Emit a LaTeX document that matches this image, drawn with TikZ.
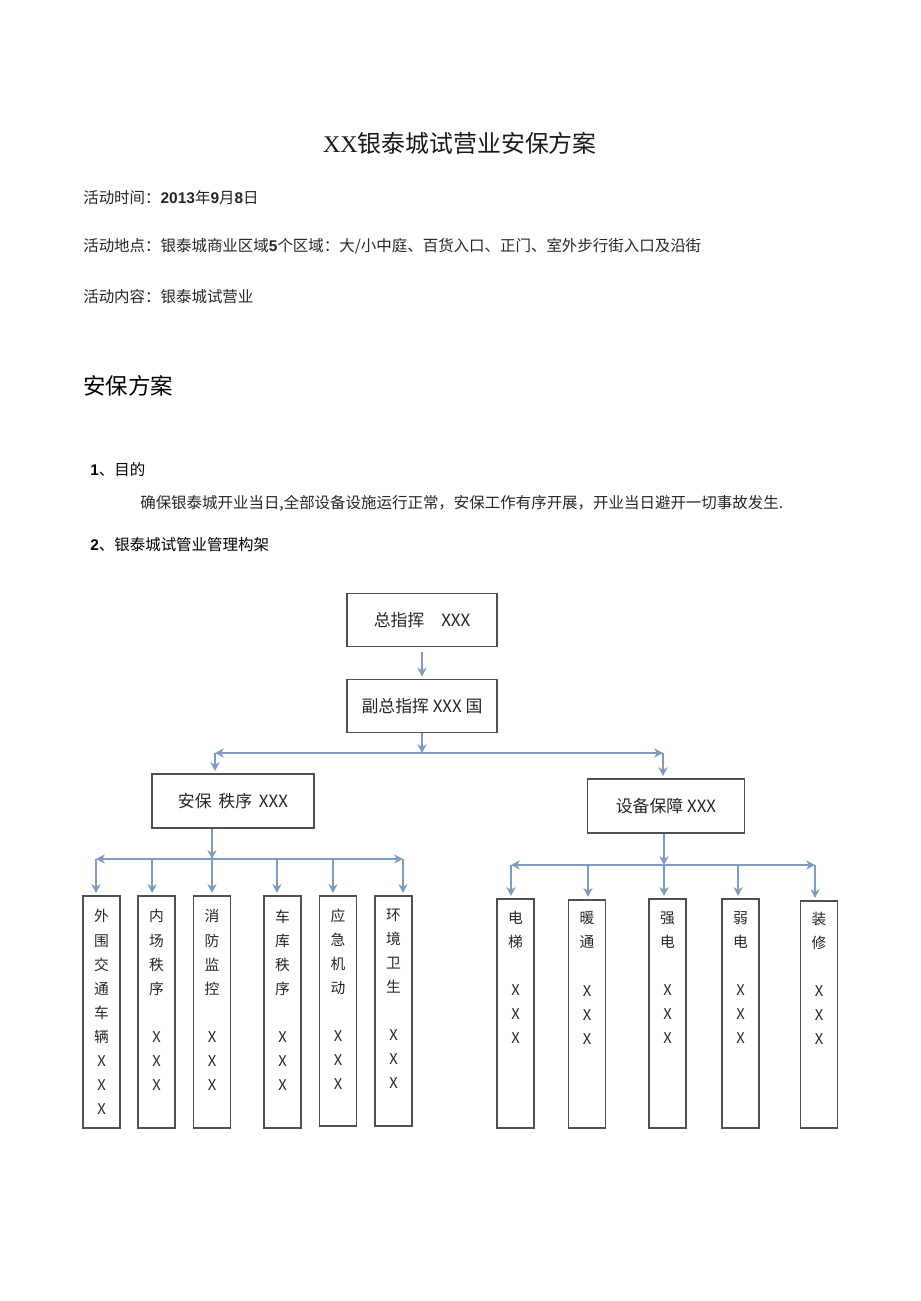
\documentclass[tikz,border=0pt]{standalone}
\usepackage{fontspec}
\setmainfont{Noto Sans CJK SC}
\newfontfamily\titleserif{Liberation Serif}
\newfontfamily\digitsans{Liberation Sans}
\usetikzlibrary{arrows.meta, calc}

\definecolor{linkblue}{RGB}{125,155,196}
\definecolor{boxgray}{RGB}{80,80,80}
\definecolor{inkgray}{RGB}{38,38,38}

\begin{document}
\begin{tikzpicture}[
    x=0.025cm, y=-0.025cm,
    bodytext/.style={
        anchor=west, inner sep=0pt,
        font=\fontsize{11}{13}\selectfont,
        text=black!85
    },
    headbox/.style={
        rectangle, draw=boxgray, line width=1.3pt,
        minimum width=3.75cm, minimum height=1.325cm,
        font=\fontsize{12}{14}\selectfont,
        text=inkgray
    },
    colbox/.style={
        rectangle, draw=boxgray, line width=1.3pt,
        anchor=north, inner sep=0pt,
        minimum width=0.925cm, minimum height=5.8cm,
        align=center,
        font=\fontsize{10.5}{17.1}\selectfont,
        text=inkgray
    },
    flow/.style={-{Stealth[length=2.2mm, width=2.3mm, inset=0.7mm]}, draw=linkblue, line width=1.2pt},
    drop/.style={flow, shorten >=1.5pt}
]
\useasboundingbox (0,0) rectangle (920,1301);

% ============ Header text ============
\node[inner sep=0pt, font=\fontsize{17}{20}\selectfont, text=black!90] (title) at (460,143)
    {{\titleserif XX}银泰城试营业安保方案};
\node[bodytext] (time) at (83,198) {活动时间：{\digitsans\bfseries 2013}年{\digitsans\bfseries 9}月{\digitsans\bfseries 8}日};
\node[bodytext] (place) at (83,246) {活动地点：银泰城商业区域{\digitsans\bfseries 5}个区域：大/小中庭、百货入口、正门、室外步行街入口及沿街};
\node[bodytext] (content) at (83,297) {活动内容：银泰城试营业};
\node[bodytext, font=\fontsize{16}{19}\selectfont, text=black] (plan) at (83,386) {安保方案};
\node[bodytext, text=black] (aim) at (90,470) {{\digitsans\bfseries 1}、目的};
\node[bodytext] (aimtext) at (140,503) {确保银泰城开业当日,全部设备设施运行正常，安保工作有序开展，开业当日避开一切事故发生.};
\node[bodytext, text=black] (frame) at (90,545) {{\digitsans\bfseries 2}、银泰城试管业管理构架};

% ============ Command boxes ============
\node[headbox] (zong) at (422,620) {总指挥\hspace{1em}XXX};
\node[headbox] (fu) at (422,706) {副总指挥 XXX 国};
\node[headbox, minimum width=4.05cm, minimum height=1.35cm] (anbao) at (233,801) {安保\hspace{0.4em}秩序\hspace{0.4em}XXX};
\node[headbox, minimum width=3.925cm, minimum height=1.35cm] (shebei) at (666,806) {设备保障 XXX};

% ============ Security columns ============
\node[colbox] (lb1) at (101.5,895) {外\\围\\交\\通\\车\\辆\\X\\X\\X};
\node[colbox] (lb2) at (156.5,895) {内\\场\\秩\\序\\{}\\X\\X\\X\\{}};
\node[colbox] (lb3) at (212,895) {消\\防\\监\\控\\{}\\X\\X\\X\\{}};
\node[colbox] (lb4) at (282.5,895) {车\\库\\秩\\序\\{}\\X\\X\\X\\{}};
\node[colbox, minimum height=5.75cm] (lb5) at (338,895) {应\\急\\机\\动\\{}\\X\\X\\X\\{}};
\node[colbox, minimum height=5.75cm] (lb6) at (393.5,895) {环\\境\\卫\\生\\{}\\X\\X\\X\\{}};

% ============ Equipment columns ============
\node[colbox, minimum height=5.725cm] (rb1) at (515.5,898) {电\\梯\\{}\\X\\X\\X\\{}\\{}\\{}};
\node[colbox, minimum height=5.7cm] (rb2) at (587,899) {暖\\通\\{}\\X\\X\\X\\{}\\{}\\{}};
\node[colbox, minimum height=5.725cm] (rb3) at (667.5,898) {强\\电\\{}\\X\\X\\X\\{}\\{}\\{}};
\node[colbox, minimum height=5.725cm] (rb4) at (740.5,898) {弱\\电\\{}\\X\\X\\X\\{}\\{}\\{}};
\node[colbox, minimum height=5.675cm] (rb5) at (819,900) {装\\修\\{}\\X\\X\\X\\{}\\{}\\{}};

% ============ Branch points ============
\coordinate (jA) at (422,753);
\coordinate (jAL) at (215,753);
\coordinate (jAR) at (663,753);
\coordinate (jB) at (212,859);
\coordinate (jBL) at (96,859);
\coordinate (jBR) at (403,859);
\coordinate (jC) at (664,865);
\coordinate (jCL) at (511,865);
\coordinate (jCR) at (815,865);

% ============ Top flow ============
\draw[drop, shorten <=3pt] (zong) -- (fu);
\draw[flow] (fu.south) -- (jA);
\draw[flow] (jA) -- (jAL);
\draw[flow] (jA) -- (jAR);
\draw[drop] (jAL) -- (jAL |- anbao.north);
\draw[drop] (jAR) -- (jAR |- shebei.north);

% ============ Security branch ============
\draw[flow] (jB |- anbao.south) -- (jB);
\draw[flow] (jB) -- (jBL);
\draw[flow] (jB) -- (jBR);
\draw[drop] (jBL) -- (jBL |- lb1.north);
\draw[drop] (jBR) -- (jBR |- lb6.north);
\draw[drop] (jB) -- (jB |- lb3.north);
\foreach \b/\dx in {lb2/-0.11cm, lb4/-0.14cm, lb5/-0.125cm}
    \draw[drop] ([xshift=\dx]\b.north |- jB) -- ([xshift=\dx]\b.north);

% ============ Equipment branch ============
\draw[flow] (jC |- shebei.south) -- (jC);
\draw[flow] (jC) -- (jCL);
\draw[flow] (jC) -- (jCR);
\draw[drop] (jCL) -- (jCL |- rb1.north);
\draw[drop] (jCR) -- (jCR |- rb5.north);
\draw[drop] (jC) -- (jC |- rb3.north);
\foreach \b/\dx in {rb2/0.025cm, rb4/-0.06cm}
    \draw[drop] ([xshift=\dx]\b.north |- jC) -- ([xshift=\dx]\b.north);

\end{tikzpicture}
\end{document}
